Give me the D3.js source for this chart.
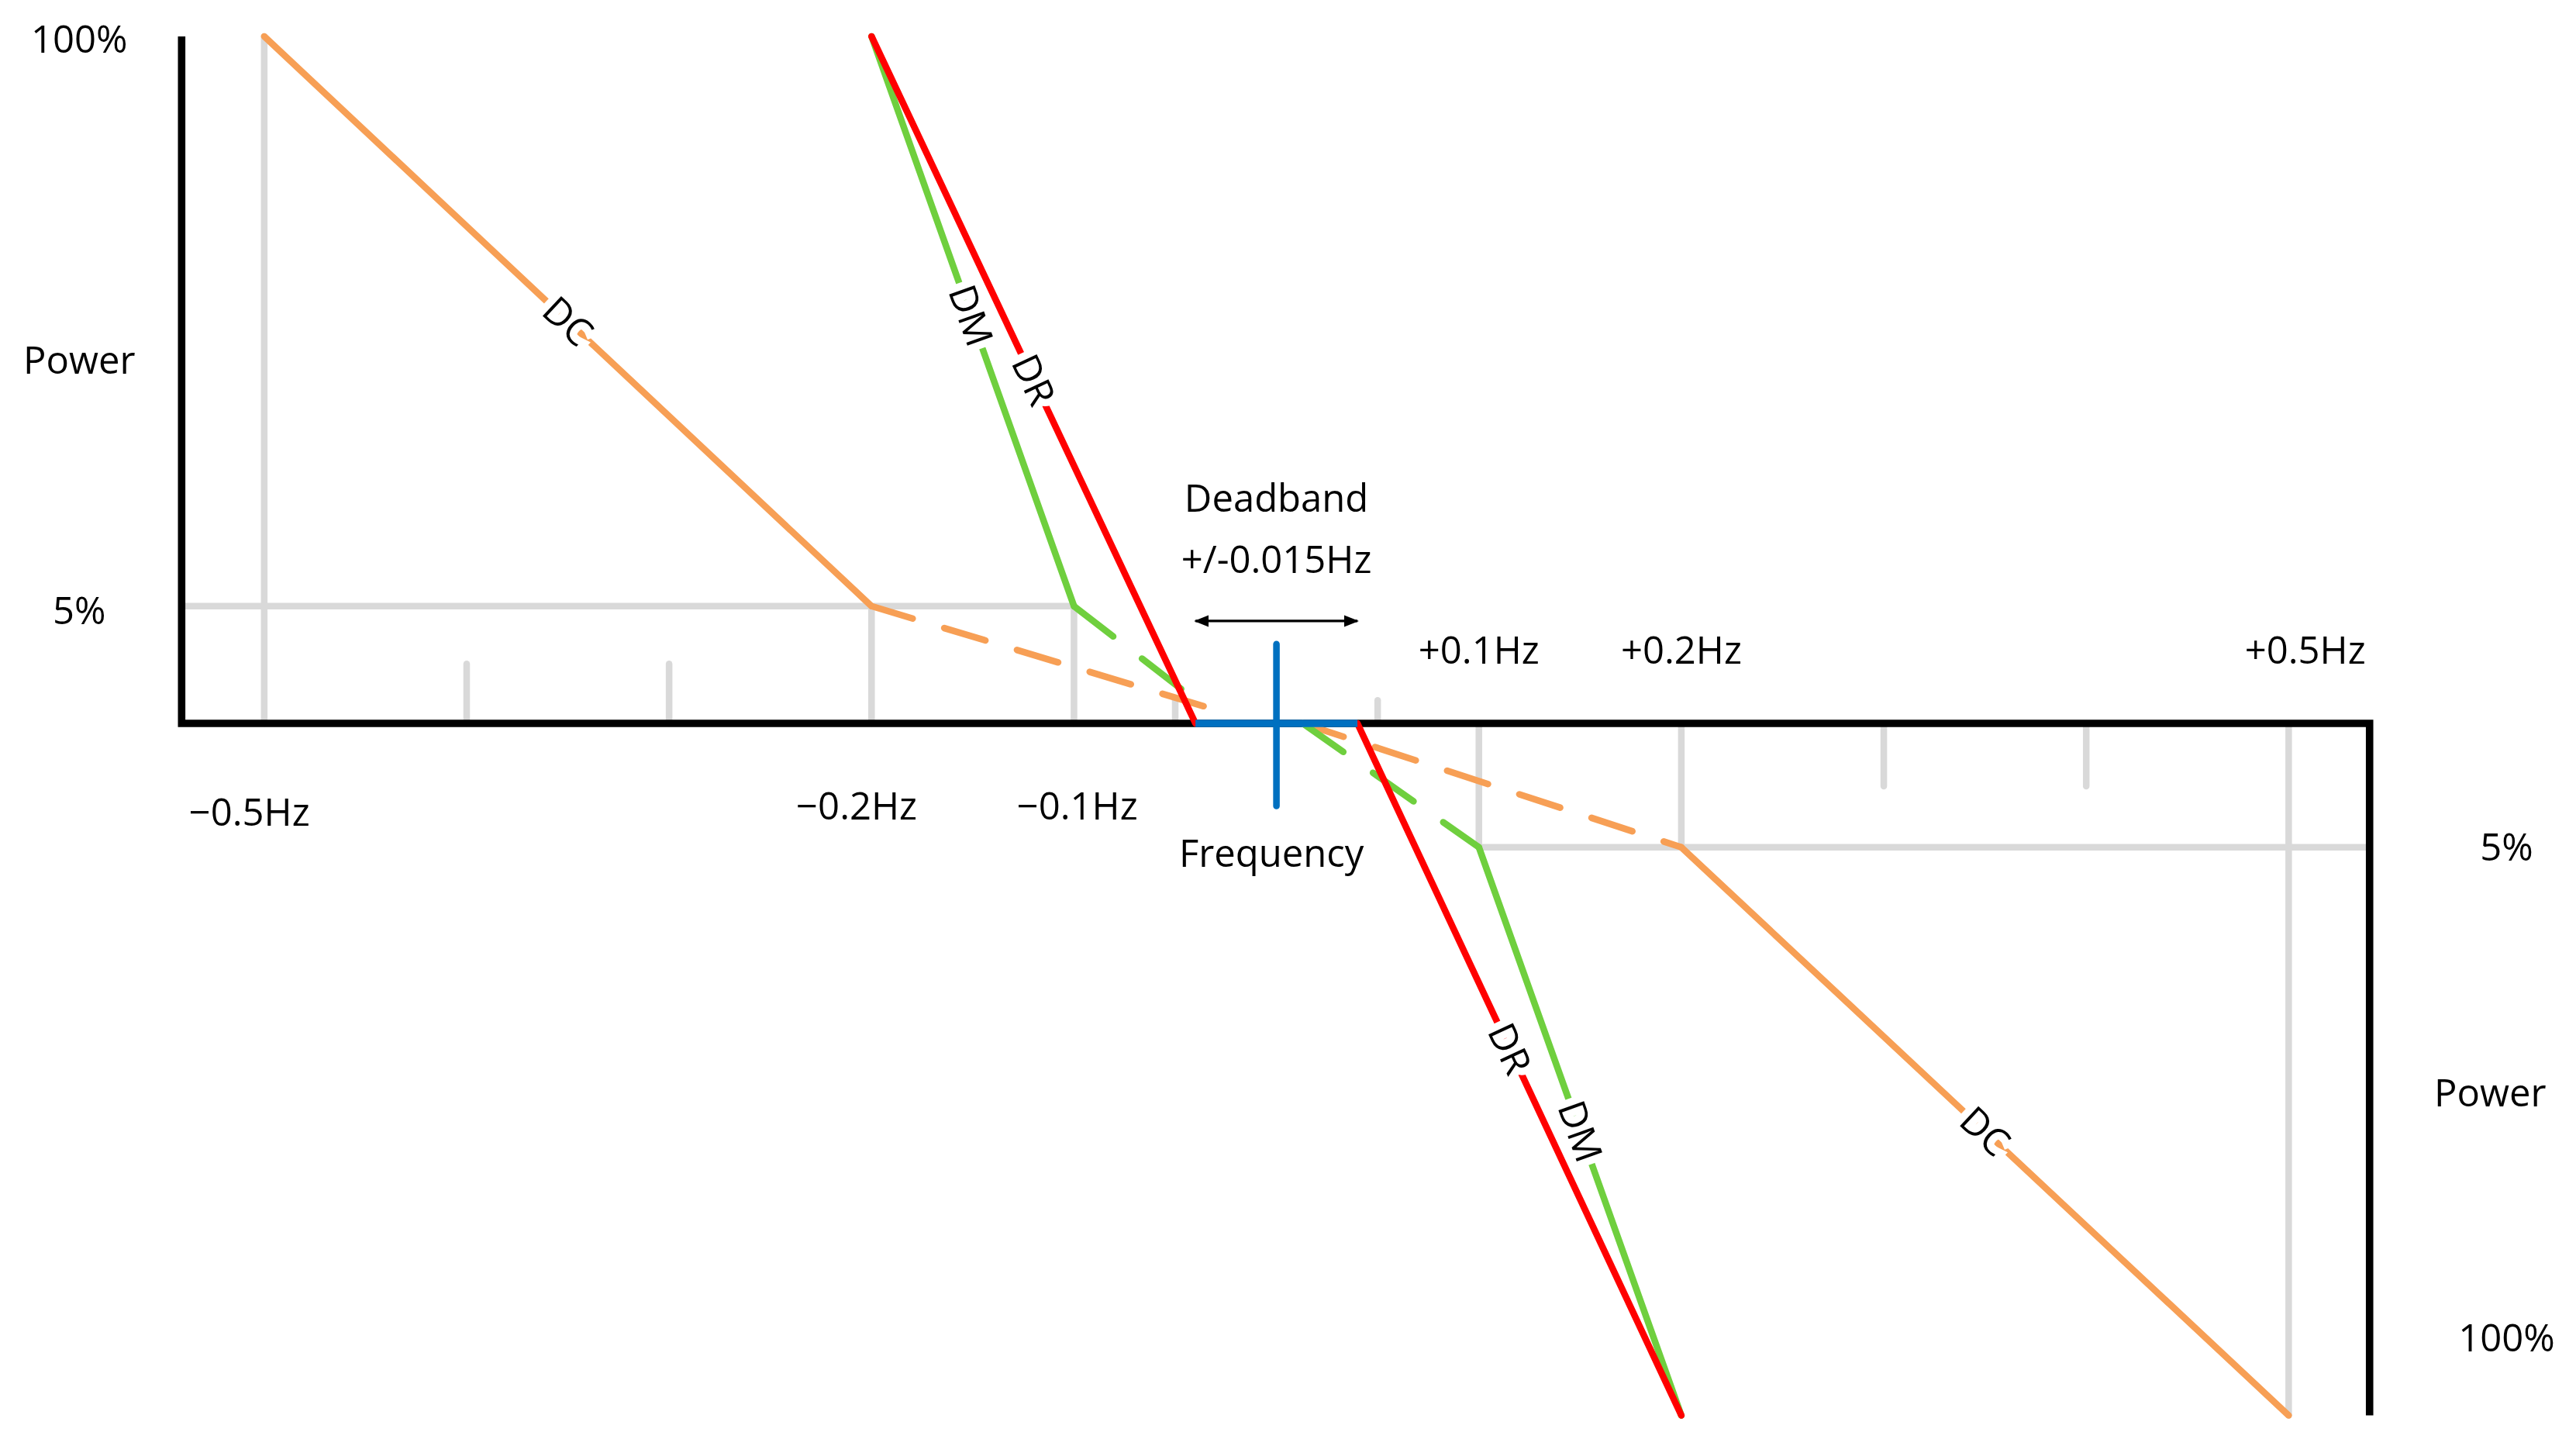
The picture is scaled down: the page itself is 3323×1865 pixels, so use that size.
<!DOCTYPE html>
<html><head><meta charset="utf-8">
<script src="https://cdn.jsdelivr.net/npm/d3@7"></script>
<style>body{margin:0;background:#fff}text{font-family:"Open Sans","Noto Sans",sans-serif}</style>
</head><body><div id="chart"></div>
<script>
// frequency (Hz, schematic) and power (% , negative = below axis)
var dbEdge = 0.04;  // drawn deadband edge (schematic, labelled +/-0.015Hz)
var drLeft = [[-0.2,100],[-dbEdge,0]];
var drRight = [[dbEdge,0],[0.2,-100]];
var dmLeft = [[-0.2,100],[-0.1,5]];
var dmLeftDash = [[-0.1,5],[-0.04,1]];
var dmRight = [[0.1,-5],[0.2,-100]];
var dmRightDash = [[0.013,0],[0.1,-5]];
var dcLeft = [[-0.5,100],[-0.2,5]];
var dcLeftDash = [[-0.2,5],[-0.027,0.5]];
var dcRight = [[0.2,-5],[0.5,-100]];
var dcRightDash = [[0.013,0],[0.2,-5]];
var majorTicks = [-0.5,-0.2,-0.1,0.1,0.2,0.5];
var minorUp = [-0.4,-0.3];
var minorDown = [0.3,0.4];
var smallTicks = [-0.05,0.05];
var xLabels = [[-0.5,'\u22120.5Hz'],[-0.2,'\u22120.2Hz'],[-0.1,'\u22120.1Hz']];
var xLabelsR = [[0.1,'+0.1Hz'],[0.2,'+0.2Hz'],[0.5,'+0.5Hz']];

var W=1560,H=875.5;
var svg=d3.select('#chart').append('svg')
  .attr('width',3323).attr('height',1865)
  .attr('viewBox',`0 0 ${W} ${H}`);

var x=d3.scaleLinear().domain([-0.5,0.5]).range([160,1386]);
var y=d3.scaleLinear().domain([-100,-5,0,5,100]).range([857,513,438,367,22]);
var axL=110, axR=1435;

var grey='#d9d9d9', gw=4;
function seg(x1,y1,x2,y2,c,w,dash){
  var l=svg.append('line').attr('x1',x1).attr('y1',y1).attr('x2',x2).attr('y2',y2)
    .attr('stroke',c).attr('stroke-width',w).attr('stroke-linecap','round');
  if(dash) l.attr('stroke-dasharray',dash);
  return l;
}
// grey guides
seg(x(-0.5),y(100),x(-0.5),y(0),grey,gw);
seg(axL,y(5),x(-0.1),y(5),grey,gw);
seg(x(-0.2),y(5),x(-0.2),y(0),grey,gw);
seg(x(-0.1),y(5),x(-0.1),y(0),grey,gw);
seg(x(0.1),y(0),x(0.1),y(-5),grey,gw);
seg(x(0.2),y(0),x(0.2),y(-5),grey,gw);
seg(x(0.5),y(0),x(0.5),y(-100),grey,gw);
seg(x(0.1),y(-5),axR,y(-5),grey,gw);
minorUp.forEach(f=>seg(x(f),y(0)-36,x(f),y(0),grey,gw));
minorDown.forEach(f=>seg(x(f),y(0),x(f),y(0)+38,grey,gw));
smallTicks.forEach(f=>seg(x(f),y(0)-14,x(f),y(0),grey,gw));

// axes
svg.append('path').attr('d',`M${axL},${y(100)}V${y(0)}H${axR}V${y(-100)}`)
  .attr('fill','none').attr('stroke','#000').attr('stroke-width',4.5);

var line=d3.line().x(d=>x(d[0])).y(d=>y(d[1]));
function draw(data,c,dash){
  var p=svg.append('path').datum(data).attr('d',line).attr('fill','none')
    .attr('stroke',c).attr('stroke-width',4).attr('stroke-linecap','round');
  if(dash) p.attr('stroke-dasharray',dash);
}
var orange='#f79f55', green='#6fcf3e', red='#ff0000', blue='#0070c0';
draw(dcLeftDash,orange,'26 20'); draw(dcRightDash,orange,'26 20');
draw(dmLeftDash,green,'30 22'); draw(dmRightDash,green,'30 22');
draw(dcLeft,orange); draw(dcRight,orange);
draw(dmLeft,green); draw(dmRight,green);
draw(drLeft,red); draw(drRight,red);

// deadband marker
seg(x(-dbEdge),y(0),x(dbEdge),y(0),blue,4.5).attr('stroke-linecap','butt');
seg(x(0),y(0)-48,x(0),y(0)+50,blue,4);

// line labels along segments
function lab(data,t,txt){
  var p0=[x(data[0][0]),y(data[0][1])],p1=[x(data[1][0]),y(data[1][1])];
  var px=p0[0]+(p1[0]-p0[0])*t, py=p0[1]+(p1[1]-p0[1])*t;
  var a=Math.atan2(p1[1]-p0[1],p1[0]-p0[0])*180/Math.PI;
  svg.append('text').attr('transform',`translate(${px},${py}) rotate(${a})`)
    .attr('text-anchor','middle').attr('dy','0.35em').attr('font-size',23)
    .attr('stroke','#fff').attr('stroke-width',9).attr('paint-order','stroke')
    .text(txt);
}
lab(dcLeft,0.5,'DC'); lab(dmLeft,0.49,'DM'); lab(drLeft,0.5,'DR');
lab(drRight,0.47,'DR'); lab(dmRight,0.5,'DM'); lab(dcRight,0.5,'DC');

// arrow
var defs=svg.append('defs');
defs.append('marker').attr('id','ah').attr('viewBox','0 0 10 10').attr('refX',9).attr('refY',5)
  .attr('markerWidth',6).attr('markerHeight',6).attr('orient','auto-start-reverse')
  .append('path').attr('d','M0,1L10,5L0,9Z').attr('fill','#000');
svg.append('line').attr('x1',x(-dbEdge)).attr('x2',x(dbEdge)).attr('y1',376).attr('y2',376)
  .attr('stroke','#000').attr('stroke-width',1.5)
  .attr('marker-start','url(#ah)').attr('marker-end','url(#ah)');

function txt(px,py,s,anchor){
  svg.append('text').attr('x',px).attr('y',py).attr('font-size',23)
    .attr('text-anchor',anchor||'middle').attr('dy','0.35em').text(s);
}
txt(48,24,'100%'); txt(48,218,'Power'); txt(48,370,'5%');
xLabels.forEach(d=>txt(x(d[0])+(d[0]==-0.5?-9:d[0]==-0.2?-9:2),d[0]==-0.5?492:488,d[1]));
xLabelsR.forEach(d=>txt(x(d[0])+(d[0]==0.5?10:0),394,d[1]));
txt(x(0),302,'Deadband'); txt(x(0),339,'+/-0.015Hz');
txt(x(0)-3,517,'Frequency');
txt(1518,513,'5%'); txt(1508,662,'Power'); txt(1518,810,'100%');
</script></body></html>
